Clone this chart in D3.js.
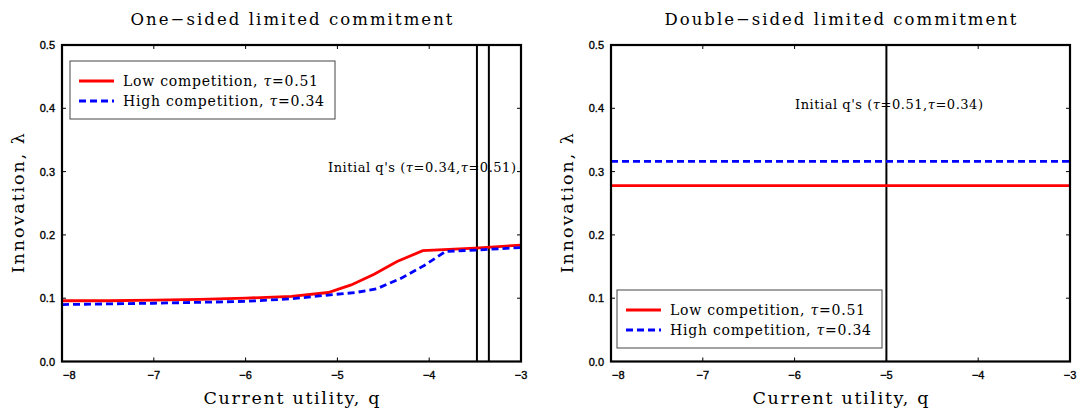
<!DOCTYPE html>
<html>
<head>
<meta charset="utf-8">
<script src="https://cdn.jsdelivr.net/npm/d3@7"></script>
<style>
  body { margin: 0; background: #fff; }
  svg { display: block; }
</style>
</head>
<body>
<div id="chart"></div>
<script>
// one-sided panel: innovation against current utility
var oneLowQ = [-8, -7.5, -7, -6.5, -6, -5.5, -5.1, -4.85, -4.6, -4.35, -4.07, -3.5, -3];
var oneLowLambda = [0.096, 0.096, 0.097, 0.098, 0.100, 0.103, 0.109, 0.121, 0.138, 0.158, 0.175, 0.179, 0.184];
var oneHighQ = [-8, -7, -6, -5.5, -5.1, -4.8, -4.57, -4.3, -4.05, -3.82, -3.5, -3];
var oneHighLambda = [0.090, 0.092, 0.095, 0.099, 0.105, 0.109, 0.115, 0.132, 0.152, 0.174, 0.176, 0.180];
var oneInitialQ = [-3.48, -3.35];

// double-sided panel: flat lines
var twoLowQ = [-8, -3];
var twoLowLambda = [0.278, 0.278];
var twoHighQ = [-8, -3];
var twoHighLambda = [0.316, 0.316];
var twoInitialQ = [-5];

var xTicks = [-8, -7, -6, -5, -4, -3];
var yTicks = [0, 0.1, 0.2, 0.3, 0.4, 0.5];
var legendLabels = ['Low competition, ', 'High competition, '];
var legendTau = ['0.51', '0.34'];

var W = 1078, H = 408;
var svg = d3.select('#chart').append('svg')
            .attr('width', W).attr('height', H);

var serif = '"DejaVu Serif", "Liberation Serif", serif';
var sans = '"Liberation Sans", Arial, sans-serif';

function drawPanel(p){
  var g = svg.append('g');
  var x = d3.scaleLinear().domain([-8, -3]).range([p.left, p.left + 459]);
  var y = d3.scaleLinear().domain([0, 0.5]).range([361.5, 45]);

  // ticks inside on all four sides
  var tl = 4;
  g.selectAll('.xt').data(xTicks.slice(1, -1)).enter().append('path')
   .attr('d', function(d){
     return 'M' + x(d) + ',' + y(0) + 'v' + (-tl) + 'M' + x(d) + ',' + y(0.5) + 'v' + tl;
   })
   .attr('stroke', '#000').attr('stroke-width', 1);
  g.selectAll('.yt').data(yTicks.slice(1, -1)).enter().append('path')
   .attr('d', function(d){
     return 'M' + x(-8) + ',' + y(d) + 'h' + tl + 'M' + x(-3) + ',' + y(d) + 'h' + (-tl);
   })
   .attr('stroke', '#000').attr('stroke-width', 1);

  // tick labels
  g.selectAll('.xl').data(xTicks).enter().append('text')
   .attr('x', function(d, i){ return i === 0 ? x(d) + 1 : x(d); })
   .attr('y', 379)
   .attr('text-anchor', function(d, i){ return i === 0 ? 'start' : 'middle'; })
   .attr('font-family', sans).attr('font-size', '11px')
   .attr('stroke', '#000').attr('stroke-width', 0.35)
   .text(function(d){ return d3.format('')(d).replace('-', '\u2212'); });
  g.selectAll('.yl').data(yTicks).enter().append('text')
   .attr('x', x(-8) - 7).attr('y', function(d){ return y(d) + 4; })
   .attr('text-anchor', 'end')
   .attr('font-family', sans).attr('font-size', '11px')
   .attr('stroke', '#000').attr('stroke-width', 0.35)
   .text(function(d){ return d3.format('.1f')(d); });

  // vertical markers for initial q
  g.selectAll('.vq').data(p.initialQ).enter().append('line')
   .attr('x1', function(d){ return x(d); }).attr('x2', function(d){ return x(d); })
   .attr('y1', y(0)).attr('y2', y(0.5))
   .attr('stroke', '#000').attr('stroke-width', 2);

  var line = d3.line()
               .x(function(d){ return x(d[0]); })
               .y(function(d){ return y(d[1]); });

  g.append('path').datum(d3.zip(p.lowQ, p.lowL))
   .attr('d', line).attr('fill', 'none')
   .attr('stroke', '#ff0000').attr('stroke-width', 2.8);
  g.append('path').datum(d3.zip(p.highQ, p.highL))
   .attr('d', line).attr('fill', 'none')
   .attr('stroke', '#0000ff').attr('stroke-width', 2.8)
   .attr('stroke-dasharray', '7,4');

  // frame
  g.append('rect')
   .attr('x', x(-8)).attr('y', y(0.5))
   .attr('width', x(-3) - x(-8)).attr('height', y(0) - y(0.5))
   .attr('fill', 'none').attr('stroke', '#000').attr('stroke-width', 2.2);

  // annotation
  var a = g.append('text')
           .attr('x', p.noteX).attr('y', p.noteY)
           .attr('font-family', serif).attr('font-size', '13px')
           .attr('textLength', 188).attr('lengthAdjust', 'spacing');
  a.append('tspan').text("Initial q's (");
  a.append('tspan').attr('font-style', 'italic').text('\u03c4');
  a.append('tspan').text('=' + p.noteTau[0] + ',');
  a.append('tspan').attr('font-style', 'italic').text('\u03c4');
  a.append('tspan').text('=' + p.noteTau[1] + ')');

  // legend
  var lg = g.append('g');
  lg.append('rect')
    .attr('x', p.legX).attr('y', p.legY).attr('width', 265).attr('height', 58)
    .attr('fill', '#fff').attr('stroke', '#444').attr('stroke-width', 1);
  var colors = ['#ff0000', '#0000ff'];
  legendLabels.forEach(function(lab, i){
    var ly = p.legY + 20 + i * 20;
    lg.append('line')
      .attr('x1', p.legX + 9).attr('x2', p.legX + 44)
      .attr('y1', ly).attr('y2', ly)
      .attr('stroke', colors[i]).attr('stroke-width', 2.8)
      .attr('stroke-dasharray', i === 1 ? '7,4' : null);
    var t = lg.append('text')
              .attr('x', p.legX + 53).attr('y', ly + 5)
              .attr('font-family', serif).attr('font-size', '14px')
              .attr('textLength', i === 0 ? 195 : 201).attr('lengthAdjust', 'spacing');
    t.append('tspan').text(lab);
    t.append('tspan').attr('font-style', 'italic').text('\u03c4');
    t.append('tspan').text('=' + legendTau[i]);
  });

  // titles and axis labels
  g.append('text')
   .attr('x', x(-5.5)).attr('y', 25)
   .attr('text-anchor', 'middle')
   .attr('font-family', serif).attr('font-size', '16.5px')
   .attr('textLength', p.titleLen).attr('lengthAdjust', 'spacing')
   .text(p.title);
  g.append('text')
   .attr('x', x(-5.5)).attr('y', 404)
   .attr('text-anchor', 'middle')
   .attr('font-family', serif).attr('font-size', '17.5px')
   .attr('textLength', 176).attr('lengthAdjust', 'spacing')
   .text('Current utility, q');
  g.append('text')
   .attr('transform', 'translate(' + (x(-8) - 38) + ',' + y(0.25) + ') rotate(-90)')
   .attr('text-anchor', 'middle')
   .attr('font-family', serif).attr('font-size', '17.5px')
   .attr('textLength', 140).attr('lengthAdjust', 'spacing')
   .text('Innovation, \u03bb');
}

drawPanel({
  left: 62, title: 'One\u2212sided limited commitment', titleLen: 322,
  lowQ: oneLowQ, lowL: oneLowLambda, highQ: oneHighQ, highL: oneHighLambda,
  initialQ: oneInitialQ, noteX: 328, noteY: 172, noteTau: ['0.34', '0.51'],
  legX: 70, legY: 61
});
drawPanel({
  left: 611, title: 'Double\u2212sided limited commitment', titleLen: 352,
  lowQ: twoLowQ, lowL: twoLowLambda, highQ: twoHighQ, highL: twoHighLambda,
  initialQ: twoInitialQ, noteX: 795, noteY: 109, noteTau: ['0.51', '0.34'],
  legX: 617, legY: 290
});
</script>
</body>
</html>
